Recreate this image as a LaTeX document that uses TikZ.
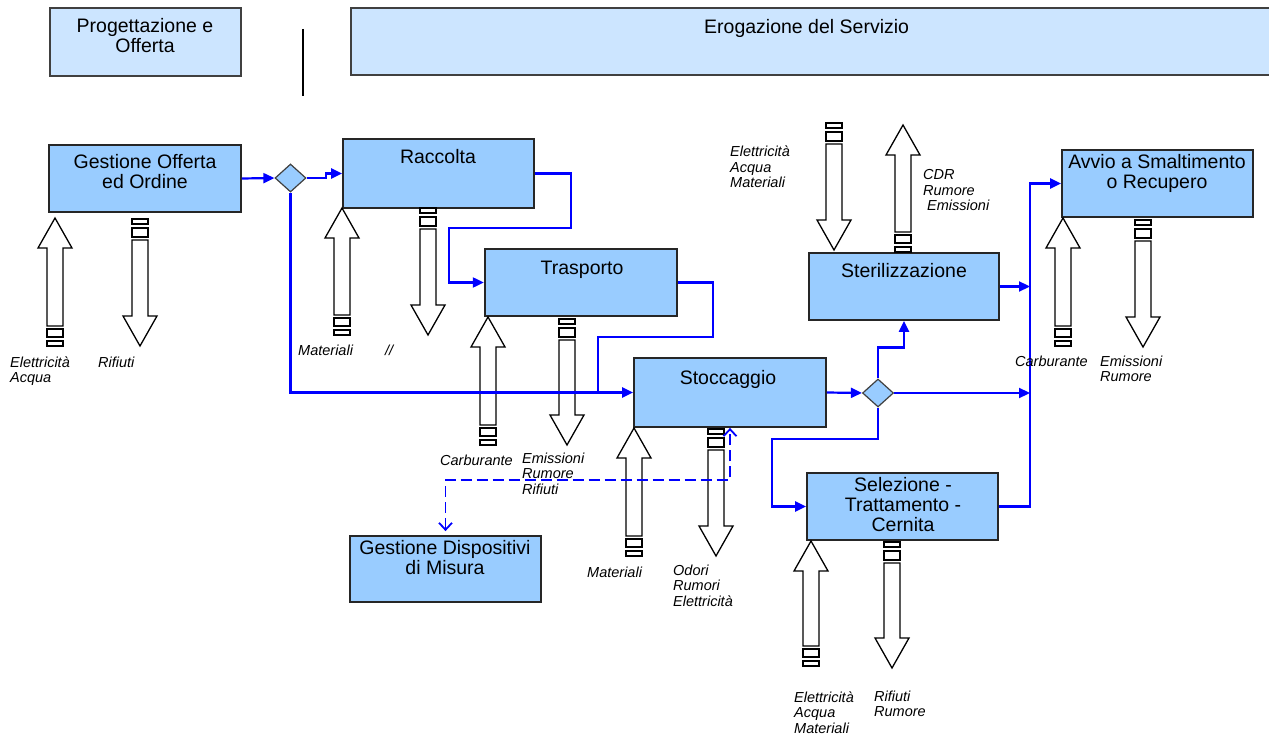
\documentclass[tikz,border=0pt]{standalone}
\usepackage{fontspec}
\setmainfont{Liberation Sans}
\usetikzlibrary{arrows.meta,shapes.geometric,calc}
\definecolor{boxblue}{HTML}{99CCFF}
\definecolor{hdrblue}{HTML}{CCE5FF}
\definecolor{lineblue}{HTML}{0000FF}
\newcommand{\fatup}[3]{%
  \draw[fat] (#1-8,#3-20) -- (#1-8,#2+30) -- (#1-17,#2+30) -- (#1,#2) -- (#1+17,#2+30) -- (#1+8,#2+30) -- (#1+8,#3-20) -- cycle;
  \draw[fat] (#1-8,#3-17) rectangle (#1+8,#3-9);
  \draw[fat] (#1-8,#3-5) rectangle (#1+8,#3);
}
\newcommand{\fatdown}[3]{%
  \draw[fat] (#1-8,#2+21) -- (#1-8,#3-30) -- (#1-17,#3-30) -- (#1,#3) -- (#1+17,#3-30) -- (#1+8,#3-30) -- (#1+8,#2+21) -- cycle;
  \draw[fat] (#1-8,#2) rectangle (#1+8,#2+5);
  \draw[fat] (#1-8,#2+9) rectangle (#1+8,#2+18);
}
\begin{document}
\begin{tikzpicture}[x=1pt,y=-1pt,
  box/.style={draw=black!85, line width=1.8pt, fill=boxblue, inner sep=0pt},
  hdr/.style={draw=black!75, line width=1.2pt, fill=hdrblue, inner sep=0pt},
  btxt/.style={font=\fontsize{19.5}{20}\selectfont, align=center, anchor=base, inner sep=0pt},
  lab/.style={font=\fontsize{14.5}{15.5}\selectfont\itshape, align=left, anchor=base west, inner sep=0pt},
  dia/.style={diamond, draw=black!75, line width=1.2pt, fill=boxblue, inner sep=0pt, minimum width=31pt, minimum height=28pt},
  flow/.style={draw=lineblue, line width=2.2pt, -{Triangle[length=11pt,width=10pt]}},
  flowplain/.style={draw=lineblue, line width=2.2pt},
  dflow/.style={draw=lineblue, line width=1.8pt, dash pattern=on 11pt off 5pt, {Straight Barb[length=7pt,width=13pt]}-{Straight Barb[length=7pt,width=13pt]}},
  fat/.style={draw=black, line width=1.3pt, fill=white}]
\useasboundingbox (0,0) rectangle (1269,735);
\fill[white] (0,0) rectangle (1269,735);

% header
\node[hdr, minimum width=191pt, minimum height=68pt] (prog) at (145.5,42) {};
\node[btxt] (progt) at (145,53) {Progettazione e\\Offerta};
\node[hdr, minimum width=924pt, minimum height=67pt] (erog) at (813,41.5) {};
\node[btxt, anchor=base west] (erogt) at (704,34) {Erogazione del Servizio};
\draw[line width=2pt] (303,29) -- (303,96);

% boxes
\node[box, minimum width=192pt, minimum height=67pt] (go) at (145,178.5) {};
\node[box, minimum width=191pt, minimum height=69pt] (rac) at (438.5,173.5) {};
\node[box, line width=2.4pt, minimum width=192pt, minimum height=67pt] (tra) at (581,282.5) {};
\node[box, minimum width=192pt, minimum height=69pt] (sto) at (730,392.5) {};
\node[box, minimum width=190pt, minimum height=67pt] (ste) at (904,286.5) {};
\node[box, minimum width=191pt, minimum height=67pt] (avv) at (1157.5,183.5) {};
\node[box, minimum width=191pt, minimum height=67pt] (sel) at (902.5,506.5) {};
\node[box, minimum width=191pt, minimum height=66pt] (gdm) at (445.5,569) {};

\node[dia] (d1) at (290.5,178) {};
\node[dia] (d2) at (878,393) {};

% fat arrows
\fatup{55}{218}{346}
\fatdown{140}{219}{346}
\fatup{342}{208}{335}
\fatdown{428}{208}{335}
\fatup{488}{317}{445}
\fatdown{567}{319}{445}
\fatup{634}{428}{556}
\fatdown{716}{429}{556}
\fatdown{834}{123}{250}
\fatup{903}{125}{252}
\fatup{1063}{218}{346}
\fatdown{1143}{220}{347}
\fatup{811}{541}{666}
\fatdown{892}{542}{668}

% connectors
\coordinate (bus1) at (1030,393);
\coordinate (dx) at (730,0);
\draw[flow] (go.east) -- (d1.west);
\draw[flow] (d1.east) -- ++(19,0) |- (rac.west);
\draw[flow] (d1.south) |- (sto.west);
\draw[flow] (rac.east) -- ++(36,0) -- ++(0,54.5) -- (449,228) |- (tra.west);
\draw[flowplain] (tra.east) -- ++(35,0) -- ++(0,54.5) -- (598,337) -- (598,392.5);
\draw[flow] (sto.east) -- (d2.west);
\draw[flow] (d2.north) -- ++(0,-31) -| (ste.south);
\draw[flow] (d2.east) -- (bus1);
\draw[flow] (d2.south) -- (878,439) -- (772,439) |- (sel.west);
\draw[flow] (sel.east) -| (1030,330) |- (avv.west);
\draw[flow] (ste.east) -- (ste.east -| bus1);
\draw[dflow] ([yshift=4pt]gdm.north) -- ++(0,-51) -| (sto.south -| dx);

% box texts
\node[btxt] (got) at (145,189) {Gestione Offerta\\ed Ordine};
\node[btxt] (ract) at (438,164) {Raccolta};
\node[btxt] (trat) at (582,275) {Trasporto};
\node[btxt] (stot) at (728,384) {Stoccaggio};
\node[btxt] (stet) at (904,278) {Sterilizzazione};
\node[btxt] (avvt) at (1157,189) {Avvio a Smaltimento\\o Recupero};
\node[btxt] (selt) at (903,531) {Selezione -\\Trattamento -\\Cernita};
\node[btxt] (gdmt) at (445,574) {Gestione Dispositivi\\di Misura};

% labels
\node[lab] (l1) at (10,382.5) {Elettricità\\Acqua};
\node[lab] (l2) at (98,367) {Rifiuti};
\node[lab] (l3) at (298,355) {Materiali};
\node[lab] (l4) at (385,355) {//};
\node[lab] (l5) at (440,465) {Carburante};
\node[lab] (l6) at (522,494) {Emissioni\\Rumore\\Rifiuti};
\node[lab] (l7) at (587,577) {Materiali};
\node[lab] (l8) at (673,606) {Odori\\Rumori\\Elettricità};
\node[lab] (l9) at (730,188) {Elettricità\\Acqua\\Materiali};
\node[lab] (l10) at (923,211) {CDR\\Rumore\\\hspace*{4pt}Emissioni};
\node[lab] (l11) at (1015,366) {Carburante};
\node[lab] (l12) at (1100,381.5) {Emissioni\\Rumore};
\node[lab] (l13) at (794,733) {Elettricità\\Acqua\\Materiali};
\node[lab] (l14) at (874,716.5) {Rifiuti\\Rumore};
\end{tikzpicture}
\end{document}
